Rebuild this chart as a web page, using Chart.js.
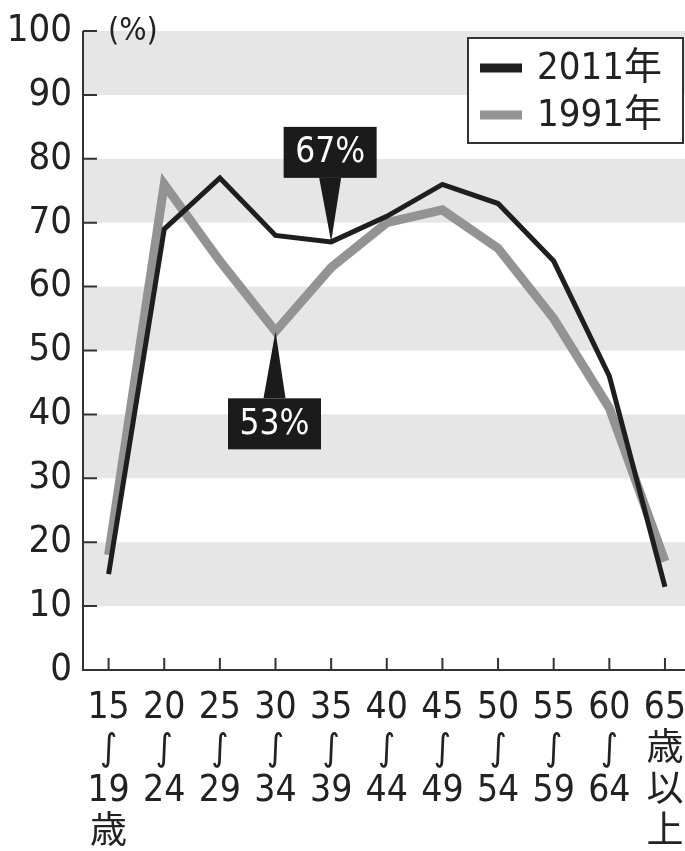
<!DOCTYPE html>
<html>
<head>
<meta charset="utf-8">
<script src="https://cdn.jsdelivr.net/npm/chart.js@4"></script>
<style>
  html, body { margin: 0; background: #fff; }
  #wrap { width: 685px; height: 851px; }
</style>
</head>
<body>
<div id="wrap"><canvas id="chart"></canvas></div>
<script>
// データ
const categories = [
    ['15', '∫', '19', '歳'],
    ['20', '∫', '24'],
    ['25', '∫', '29'],
    ['30', '∫', '34'],
    ['35', '∫', '39'],
    ['40', '∫', '44'],
    ['45', '∫', '49'],
    ['50', '∫', '54'],
    ['55', '∫', '59'],
    ['60', '∫', '64'],
    ['65', '歳', '以', '上']
];
const seriesNames = ['2011年', '1991年'];
const values2011 = [15, 69, 77, 68, 67, 71, 76, 73, 64, 46, 13];
const values1991 = [18, 76, 64, 53, 63, 70, 72, 66, 55, 41, 17];
const yTicks = [0, 10, 20, 30, 40, 50, 60, 70, 80, 90, 100];
const shadedBands = [[90, 100], [70, 80], [50, 60], [30, 40], [10, 20]];
const yUnit = '(%)';

const FONT = '"DejaVu Sans Condensed", "Noto Sans CJK JP", sans-serif';
const BLACK = '#1e1e1e';
const GRAY = '#939393';

const toPoints = vals => vals.map((v, i) => ({ x: i, y: v }));

// 吹き出し
function callout(ctx, px, py, text, up) {
    const w = 93, h = 51, gap = 64, half = 11;
    const cx = px - 1;
    const top = up ? py - gap - h : py + gap + 3;
    const baseY = up ? top + h : top;
    ctx.fillStyle = '#1b1b1b';
    ctx.beginPath();
    ctx.moveTo(px, py);
    ctx.lineTo(cx - half, baseY);
    ctx.lineTo(cx + half, baseY);
    ctx.closePath();
    ctx.fill();
    ctx.fillRect(cx - w / 2, top, w, h);
    ctx.fillStyle = '#fff';
    ctx.font = '35px ' + FONT;
    ctx.textAlign = 'center';
    ctx.textBaseline = 'middle';
    ctx.fillText(text, cx, top + h / 2 + 1);
}

const decor = {
    id: 'decor',
    beforeDatasetsDraw(chart) {
        const { ctx, chartArea: a, scales: { y } } = chart;
        ctx.save();
        ctx.fillStyle = '#e6e6e6';
        shadedBands.forEach(([lo, hi]) => {
            const t = y.getPixelForValue(hi), b = y.getPixelForValue(lo);
            ctx.fillRect(a.left, t, a.right - a.left, b - t);
        });
        ctx.restore();
    },
    afterDatasetsDraw(chart) {
        const { ctx, chartArea: a, scales: { x, y } } = chart;
        ctx.save();
        // 軸
        ctx.strokeStyle = '#333';
        ctx.lineWidth = 2;
        ctx.beginPath();
        ctx.moveTo(a.left, y.getPixelForValue(100));
        ctx.lineTo(a.left, a.bottom);
        ctx.lineTo(a.right, a.bottom);
        yTicks.forEach(v => {
            const py = y.getPixelForValue(v);
            ctx.moveTo(a.left, py);
            ctx.lineTo(a.left + 14, py);
        });
        categories.forEach((c, i) => {
            const px = x.getPixelForValue(i);
            ctx.moveTo(px, a.bottom);
            ctx.lineTo(px, a.bottom - 12);
        });
        ctx.stroke();

        ctx.fillStyle = '#222';
        ctx.font = '32px ' + FONT;
        ctx.textAlign = 'left';
        ctx.textBaseline = 'middle';
        ctx.fillText(yUnit, a.left + 25, y.getPixelForValue(100) + 1);

        // 吹き出し
        const m0 = chart.getDatasetMeta(0).data[4];
        callout(ctx, m0.x, m0.y, values2011[4] + '%', true);
        const m1 = chart.getDatasetMeta(1).data[3];
        callout(ctx, m1.x, m1.y, values1991[3] + '%', false);

        // 凡例
        const lx = 468, ly = 38, lw = 215, lh = 105;
        ctx.fillStyle = '#fff';
        ctx.fillRect(lx, ly, lw, lh);
        ctx.strokeStyle = '#333';
        ctx.lineWidth = 2;
        ctx.strokeRect(lx, ly, lw, lh);
        const ds = chart.data.datasets;
        [68, 115].forEach((ry, i) => {
            ctx.strokeStyle = ds[i].borderColor;
            ctx.lineWidth = 9;
            ctx.beginPath();
            ctx.moveTo(480, ry);
            ctx.lineTo(522, ry);
            ctx.stroke();
            ctx.fillStyle = '#222';
            ctx.font = '38px ' + FONT;
            ctx.textAlign = 'left';
            ctx.textBaseline = 'middle';
            ctx.fillText(ds[i].label, 537, ry + 1);
        });
        ctx.restore();
    }
};

new Chart(document.getElementById('chart'), {
    type: 'line',
    data: {
        datasets: [{
            label: seriesNames[0],
            data: toPoints(values2011),
            borderColor: BLACK,
            borderWidth: 5,
            pointRadius: 0,
            tension: 0
        }, {
            label: seriesNames[1],
            data: toPoints(values1991),
            borderColor: GRAY,
            borderWidth: 9,
            pointRadius: 0,
            tension: 0
        }]
    },
    options: {
        responsive: true,
        maintainAspectRatio: false,
        animation: false,
        layout: { padding: { top: 31, right: 0, left: 0, bottom: 0 } },
        plugins: {
            legend: { display: false },
            tooltip: { enabled: false }
        },
        scales: {
            x: {
                type: 'linear',
                min: -0.46,
                max: 10.36,
                afterBuildTicks: s => { s.ticks = categories.map((c, i) => ({ value: i })); },
                afterFit: s => { s.height = 181; s.paddingLeft = 0; s.paddingRight = 0; },
                grid: { display: false, drawTicks: false },
                border: { display: false },
                ticks: {
                    autoSkip: false,
                    maxRotation: 0,
                    padding: 18,
                    color: '#222',
                    font: { family: FONT, size: 37, lineHeight: 1.12 },
                    callback: v => categories[v]
                }
            },
            y: {
                min: 0,
                max: 100,
                afterBuildTicks: s => { s.ticks = yTicks.map(v => ({ value: v })); },
                afterFit: s => { s.width = 83; s.paddingTop = 0; s.paddingBottom = 0; },
                grid: { display: false, drawTicks: false },
                border: { display: false },
                ticks: {
                    padding: 11,
                    color: '#222',
                    font: { family: FONT, size: 38 }
                }
            }
        }
    },
    plugins: [decor]
});
</script>
</body>
</html>
